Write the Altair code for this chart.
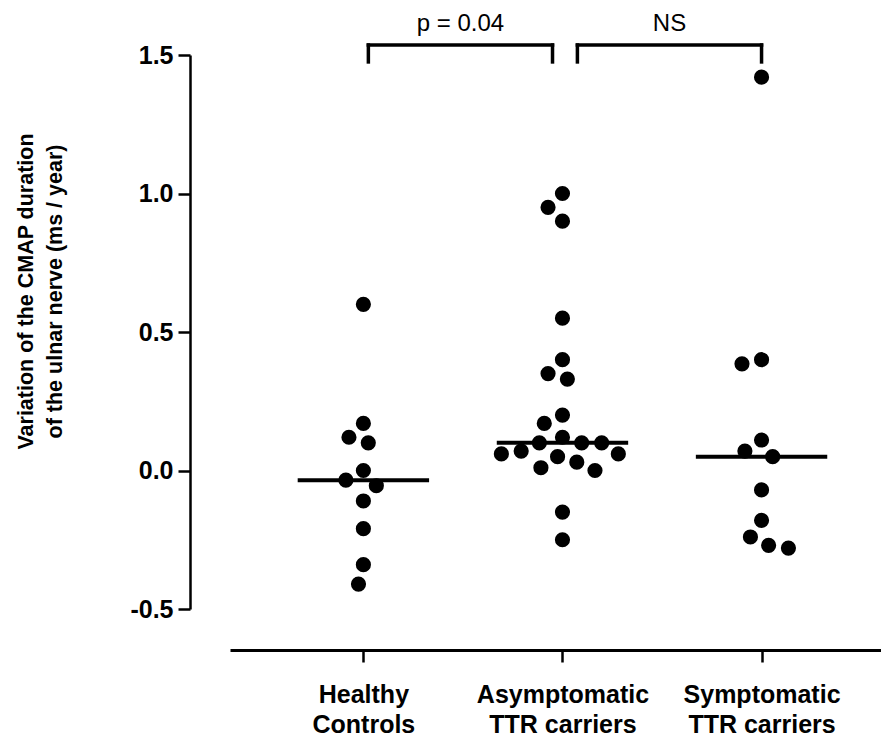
import math
import numpy as np
import pandas as pd
import altair as alt

# ---------------- data ----------------
groups = ["Healthy Controls", "Asymptomatic TTR carriers", "Symptomatic TTR carriers"]
group_labels = [["Healthy", "Controls"], ["Asymptomatic", "TTR carriers"], ["Symptomatic", "TTR carriers"]]

healthy = [0.60, 0.17, 0.12, 0.10, 0.00, -0.035, -0.055, -0.11, -0.21, -0.34, -0.41]
asymptomatic = [1.00, 0.95, 0.90, 0.55, 0.40, 0.35, 0.33, 0.20, 0.17, 0.12, 0.10, 0.10,
                0.10, 0.07, 0.06, 0.06, 0.05, 0.03, 0.01, 0.00, -0.15, -0.25]
symptomatic = [1.42, 0.40, 0.385, 0.11, 0.07, 0.05, -0.07, -0.18, -0.24, -0.27, -0.28]

comparisons = ["p = 0.04", "NS"]

# ---------------- layout constants ----------------
W, H = 651, 554
X_DOM = [-0.67, 2.60]
Y_DOM = [-0.5, 1.5]
ppx = W / (X_DOM[1] - X_DOM[0])
ppy = H / (Y_DOM[1] - Y_DOM[0])
DOT_D = 20.0  # collision distance in px for the swarm layout


def swarm_offsets(vals):
    """Simple beeswarm: place points (highest first) as near the centre as possible."""
    n = len(vals)
    ys = [v * ppy for v in vals]
    order = sorted(range(n), key=lambda i: -vals[i])
    placed = []
    offs = [0.0] * n
    for i in order:
        y = ys[i]
        neigh = [(px, py) for px, py in placed if abs(py - y) < DOT_D]
        cands = [0.0]
        for px, py in neigh:
            dx = math.sqrt(DOT_D ** 2 - (py - y) ** 2)
            cands += [px - dx, px + dx]
        cands.sort(key=lambda c: (round(abs(c), 6), c))
        for c in cands:
            if all((c - px) ** 2 + (y - py) ** 2 >= DOT_D ** 2 - 1e-6 for px, py in neigh):
                offs[i] = c
                break
        placed.append((offs[i], y))
    return offs


rows = []
medians = []
for gi, vals in enumerate([healthy, asymptomatic, symptomatic]):
    offs = swarm_offsets(vals)
    for v, o in zip(vals, offs):
        rows.append({"group": groups[gi], "xpos": gi + o / ppx, "value": v})
    medians.append({"group": groups[gi], "x1": gi - 0.33, "x2": gi + 0.33,
                    "median": float(np.median(vals))})

pts = pd.DataFrame(rows)
med = pd.DataFrame(medians)

# significance brackets (in data units)
br_left = [0.025, 1.075]
br_right = [0.95, 2.0]
br_top = 1.536
br_bottom = 1.475
horiz = pd.DataFrame({"x1": br_left, "x2": br_right, "y": [br_top, br_top]})
legs = pd.DataFrame({"x": br_left + br_right,
                     "y1": [br_bottom] * 4, "y2": [br_top] * 4})
labels = pd.DataFrame({"x": [(a + b) / 2 for a, b in zip(br_left, br_right)],
                       "y": [1.585, 1.585], "text": comparisons})

FONT = "Liberation Sans"

label_expr = " : ".join(
    f"datum.value == {i} ? ['{a}', '{b}']" for i, (a, b) in enumerate(group_labels[:-1])
) + f" : ['{group_labels[-1][0]}', '{group_labels[-1][1]}']"

x_scale = alt.Scale(domain=X_DOM, nice=False, zero=False)
y_scale = alt.Scale(domain=Y_DOM, nice=False, zero=False)

x_axis = alt.Axis(values=[0, 1, 2], labelExpr=label_expr, title=None, grid=False,
                  offset=41, tickSize=12, tickWidth=2.5, tickColor="black",
                  domainColor="black", domainWidth=3, labelPadding=20,
                  labelFont=FONT, labelFontSize=25, labelFontWeight="bold",
                  labelColor="black", labelLineHeight=30, labelFlush=False,
                  labelOverlap=False)

y_axis = alt.Axis(values=[-0.5, 0, 0.5, 1.0, 1.5],
                  labelExpr="replace(format(datum.value, '.1f'), '\u2212', '-')",
                  grid=False,
                  offset=40, tickSize=12, tickWidth=2.5, tickColor="black",
                  domainColor="black", domainWidth=2.5, labelPadding=5,
                  labelFont=FONT, labelFontSize=25, labelFontWeight="bold",
                  labelColor="black",
                  title=["Variation of the CMAP duration", "of the ulnar nerve (ms / year)"],
                  titleFont=FONT, titleFontSize=21.5, titleFontWeight=800,
                  titleColor="black", titleLineHeight=29, titleAngle=270,
                  titleAlign="center", titleBaseline="alphabetic",
                  titleX=-158, titleY=236)

points = alt.Chart(pts).mark_circle(size=230, color="black", opacity=1).encode(
    x=alt.X("xpos:Q", scale=x_scale, axis=x_axis),
    y=alt.Y("value:Q", scale=y_scale, axis=y_axis),
)

median_rules = alt.Chart(med).mark_rule(color="black", strokeWidth=4).encode(
    x=alt.X("x1:Q", scale=x_scale), x2="x2:Q",
    y=alt.Y("median:Q", scale=y_scale),
)

bracket_h = alt.Chart(horiz).mark_rule(color="black", strokeWidth=3.5, strokeCap="square").encode(
    x=alt.X("x1:Q", scale=x_scale), x2="x2:Q",
    y=alt.Y("y:Q", scale=y_scale),
)
bracket_v = alt.Chart(legs).mark_rule(color="black", strokeWidth=3.5, strokeCap="square").encode(
    x=alt.X("x:Q", scale=x_scale),
    y=alt.Y("y1:Q", scale=y_scale), y2="y2:Q",
)
bracket_t = alt.Chart(labels).mark_text(font=FONT, fontSize=24, color="black",
                                        baseline="alphabetic", align="center").encode(
    x=alt.X("x:Q", scale=x_scale),
    y=alt.Y("y:Q", scale=y_scale),
    text="text:N",
)

chart = alt.layer(points, median_rules, bracket_h, bracket_v, bracket_t).properties(
    width=W, height=H,
    autosize=alt.AutoSizeParams(type="none"),
    padding={"left": 230, "top": 55, "right": 0, "bottom": 128},
    background="white",
).configure_view(stroke=None)

chart.save("out.html", embed_options={"renderer": "svg", "actions": False})
